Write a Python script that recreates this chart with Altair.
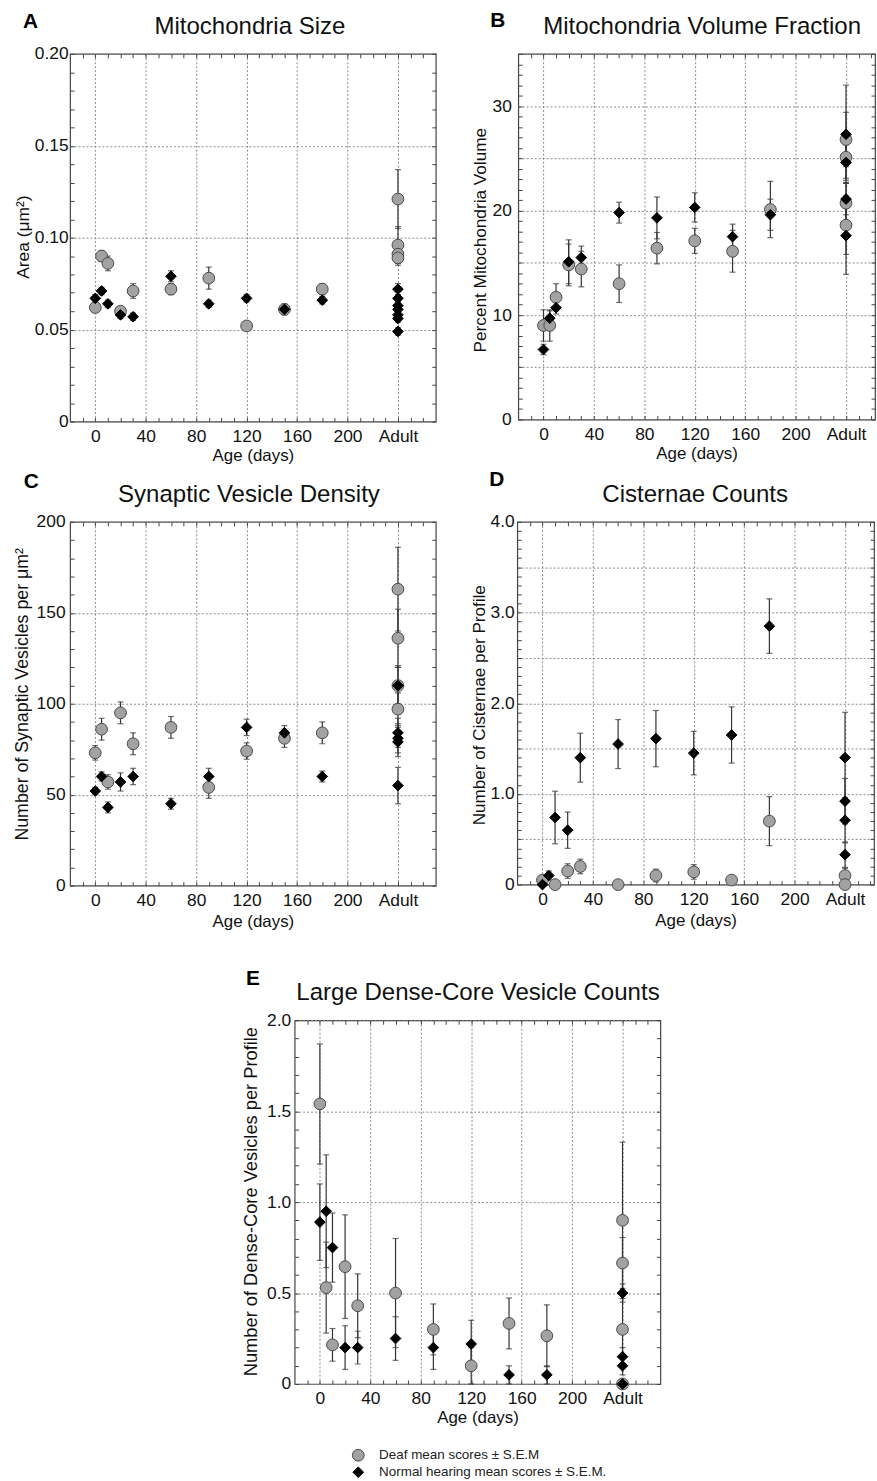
import altair as alt
import pandas as pd

FONT = "Liberation Sans"

# ---------------- data ----------------
AGES = [0, 5, 10, 20, 30, 60, 90, 120, 150, 180]
ADULT = 240
X_TICKS = [0, 40, 80, 120, 160, 200, 240]
X_MINOR = list(range(-10, 270, 10))
GROUPS = ["Deaf", "Normal"]

# A: Mitochondria Size
A_DEAF = [0.062, 0.090, 0.086, 0.060, 0.071, 0.072, 0.078, 0.052, 0.061, 0.072]
A_DEAF_SEM = [0.002, 0.003, 0.004, 0.002, 0.004, 0.003, 0.006, 0.002, 0.002, 0.003]
A_NORM = [0.067, 0.071, 0.064, 0.058, 0.057, 0.079, 0.064, 0.067, 0.061, 0.066]
A_NORM_SEM = [0.002, 0.002, 0.002, 0.002, 0.002, 0.003, 0.002, 0.002, 0.003, 0.002]
A_DEAF_AD = [0.121, 0.096, 0.091, 0.089]
A_DEAF_AD_SEM = [0.016, 0.010, 0.003, 0.004]
A_NORM_AD = [0.072, 0.067, 0.063, 0.061, 0.058, 0.056, 0.049]
A_NORM_AD_SEM = [0.003, 0.002, 0.002, 0.002, 0.002, 0.002, 0.002]

# B: Mitochondria Volume Fraction
B_DEAF = [9.0, 9.0, 11.7, 14.8, 14.4, 13.0, 16.4, 17.1, 16.1, 20.1]
B_DEAF_SEM = [1.5, 1.5, 1.3, 2.0, 1.7, 1.8, 1.5, 1.2, 2.0, 2.7]
B_NORM = [6.7, 9.7, 10.7, 15.1, 15.5, 19.8, 19.3, 20.3, 17.5, 19.6]
B_NORM_SEM = [0.5, 0.7, 0.6, 2.1, 1.1, 1.0, 2.0, 1.4, 1.2, 1.5]
B_DEAF_AD = [26.8, 25.1, 20.7, 18.6]
B_DEAF_AD_SEM = [2.6, 2.0, 2.0, 2.8]
B_NORM_AD = [27.3, 24.6, 21.1, 17.6]
B_NORM_AD_SEM = [4.7, 1.7, 1.5, 3.7]

# C: Synaptic Vesicle Density
C_DEAF = [73, 86, 57, 95, 78, 87, 54, 74, 81, 84]
C_DEAF_SEM = [4, 6, 4, 6, 6, 6, 6, 4.5, 5, 6]
C_NORM = [52, 60, 43, 57, 60, 45, 60, 87, 84, 60]
C_NORM_SEM = [2, 2.5, 3, 5, 4.5, 3, 4.5, 4.5, 4, 3]
C_DEAF_AD = [163, 136, 110, 97]
C_DEAF_AD_SEM = [23, 16, 11, 9]
C_NORM_AD = [110, 84, 81, 79, 55]
C_NORM_AD_SEM = [10, 8, 8, 8, 10]

# D: Cisternae Counts
D_DEAF = [0.05, None, 0.0, 0.15, 0.20, 0.0, 0.10, 0.14, 0.05, 0.70]
D_DEAF_SEM = [0.03, None, 0.02, 0.08, 0.08, 0.0, 0.07, 0.08, 0.02, 0.27]
D_NORM = [0.0, 0.10, 0.74, 0.60, 1.40, 1.55, 1.61, 1.45, 1.65, 2.85]
D_NORM_SEM = [0.0, 0.05, 0.29, 0.20, 0.27, 0.27, 0.31, 0.24, 0.31, 0.30]
D_DEAF_AD = [0.10, 0.0]
D_DEAF_AD_SEM = [0.08, 0.0]
D_NORM_AD = [1.40, 0.92, 0.71, 0.33]
D_NORM_AD_SEM = [0.50, 0.25, 0.25, 0.14]

# E: Large Dense-Core Vesicle Counts
E_DEAF = [1.54, 0.53, 0.215, 0.645, 0.43, 0.50, 0.30, 0.10, 0.333, 0.265]
E_DEAF_SEM = [0.33, 0.25, 0.09, 0.285, 0.175, 0.30, 0.14, 0.10, 0.14, 0.17]
E_NORM = [0.89, 0.95, 0.75, 0.20, 0.20, 0.25, 0.20, 0.22, 0.05, 0.05]
E_NORM_SEM = [0.21, 0.31, 0.19, 0.12, 0.09, 0.12, 0.12, 0.13, 0.05, 0.05]
E_DEAF_AD = [0.90, 0.665, 0.30, 0.0]
E_DEAF_AD_SEM = [0.43, 0.14, 0.20, 0.0]
E_NORM_AD = [0.50, 0.15, 0.10, 0.0]
E_NORM_AD_SEM = [0.05, 0.05, 0.05, 0.0]

PANEL_LETTERS = ["A", "B", "C", "D", "E"]
PANEL_TITLES = ["Mitochondria Size", "Mitochondria Volume Fraction",
                "Synaptic Vesicle Density", "Cisternae Counts",
                "Large Dense-Core Vesicle Counts"]
Y_TITLES = ["Area (μm²)", "Percent Mitochondria Volume",
            "Number of Synaptic Vesicles per μm²",
            "Number of Cisternae per Profile",
            "Number of Dense-Core Vesicles per Profile"]
X_TITLE = "Age (days)"
LEGEND_LABELS = ["Deaf mean scores ± S.E.M", "Normal hearing mean scores ± S.E.M."]

A_YVALS = [0, 0.05, 0.10, 0.15, 0.20]
B_YVALS = [0, 5, 10, 15, 20, 25, 30, 35]
C_YVALS = [0, 50, 100, 150, 200]
D_YVALS = [0, 0.5, 1.0, 1.5, 2.0, 2.5, 3.0, 3.5, 4.0]
E_YVALS = [0, 0.5, 1.0, 1.5, 2.0]

A_YMINOR = [round(0.01 * i, 2) for i in range(21)]
B_YMINOR = list(range(36))
C_YMINOR = list(range(0, 201, 10))
D_YMINOR = [round(0.1 * i, 1) for i in range(41)]
E_YMINOR = [round(0.1 * i, 1) for i in range(21)]


def make_df(deaf, deaf_sem, norm, norm_sem, deaf_ad, deaf_ad_sem, norm_ad, norm_ad_sem, ymin):
    rows = []
    for grp, vals, sems, avals, asems in [("Deaf", deaf, deaf_sem, deaf_ad, deaf_ad_sem),
                                          ("Normal", norm, norm_sem, norm_ad, norm_ad_sem)]:
        for age, v, s in zip(AGES, vals, sems):
            if v is None:
                continue
            rows.append({"group": grp, "age": age, "mean": v, "lo": max(v - s, ymin), "hi": v + s})
        for v, s in zip(avals, asems):
            rows.append({"group": grp, "age": ADULT, "mean": v, "lo": max(v - s, ymin), "hi": v + s})
    return pd.DataFrame(rows)


SHAPE = alt.Shape("group:N", scale=alt.Scale(domain=GROUPS, range=["circle", "diamond"]), legend=None)
FILL = alt.Fill("group:N", scale=alt.Scale(domain=GROUPS, range=["#a2a2a2", "#000000"]), legend=None)
STROKE = alt.Stroke("group:N", scale=alt.Scale(domain=GROUPS, range=["#4a4a4a", "#000000"]), legend=None)
SIZE = alt.Size("group:N", scale=alt.Scale(domain=GROUPS, range=[140, 115]), legend=None)

EB = "#333333"
GRID = "#8a8a8a"
TXT = "#111111"
LFS = 17.5   # tick label size
XFS = 17     # x title size


def panel(df, idx, w, h, xmax, ydom, yvals, yminor, lexpr, lpad, tx, ty, tfs, xty, ldx, ldy, tcx):
    xs = alt.Scale(domain=[-20, xmax], nice=False, zero=False)
    ys = alt.Scale(domain=ydom, nice=False, zero=False)
    tick_common = dict(labels=False, domain=False, grid=False, ticks=True, tickSize=4,
                       tickColor="#444444", tickWidth=1, title=None)
    x_main = alt.Axis(orient="bottom", values=X_TICKS,
                      labelExpr="datum.value == 240 ? 'Adult' : datum.label",
                      grid=True, gridColor=GRID, gridDash=[2, 2], gridWidth=1,
                      ticks=False, domain=False, labelPadding=6, labelFontSize=LFS,
                      labelColor=TXT, labelFlush=False, labelFont=FONT,
                      title=X_TITLE, titleFontSize=XFS, titleFontWeight="normal", titleFont=FONT,
                      titleColor=TXT, titleX=w / 2, titleY=xty, titleBaseline="middle",
                      titleAlign="center")
    y_main = alt.Axis(orient="left", values=yvals, labelExpr=lexpr,
                      grid=True, gridColor=GRID, gridDash=[2, 2], gridWidth=1,
                      ticks=False, domain=False, labelPadding=lpad, labelFontSize=LFS,
                      labelColor=TXT, labelFlush=False, labelFont=FONT, labelBaseline="middle",
                      title=Y_TITLES[idx], titleFontSize=tfs, titleFontWeight="normal", titleFont=FONT,
                      titleColor=TXT, titleX=tx, titleY=ty, titleAngle=270,
                      titleBaseline="middle", titleAlign="center")
    base = alt.Chart(df)
    rules = base.mark_rule(color=EB, strokeWidth=1.2).encode(
        x=alt.X("age:Q", scale=xs, axis=x_main),
        y=alt.Y("lo:Q", scale=ys, axis=y_main),
        y2="hi:Q")
    caps_lo = base.mark_tick(orient="horizontal", size=6, thickness=1.2, color=EB).encode(
        x=alt.X("age:Q", scale=xs, axis=alt.Axis(orient="top", offset=-h, values=X_MINOR, **tick_common)),
        y=alt.Y("lo:Q", scale=ys, axis=alt.Axis(orient="right", offset=-w, values=yminor, **tick_common)))
    caps_hi = base.mark_tick(orient="horizontal", size=6, thickness=1.2, color=EB).encode(
        x=alt.X("age:Q", scale=xs, axis=alt.Axis(orient="bottom", offset=-h, values=X_MINOR, **tick_common)),
        y=alt.Y("hi:Q", scale=ys, axis=alt.Axis(orient="left", offset=-w, values=yminor, **tick_common)))
    points = base.mark_point(filled=True, opacity=1, strokeWidth=1).encode(
        x=alt.X("age:Q", scale=xs, axis=None),
        y=alt.Y("mean:Q", scale=ys, axis=None),
        shape=SHAPE, fill=FILL, stroke=STROKE, size=SIZE)
    letter = alt.Chart(pd.DataFrame({"t": [PANEL_LETTERS[idx]]})).mark_text(
        align="left", baseline="alphabetic", fontSize=21, fontWeight="bold", font=FONT, color="#000000"
    ).encode(text="t:N", x=alt.value(ldx), y=alt.value(ldy))
    title = alt.Chart(pd.DataFrame({"t": [PANEL_TITLES[idx]]})).mark_text(
        align="center", baseline="alphabetic", fontSize=24.2, font=FONT, color=TXT
    ).encode(text="t:N", x=alt.value(tcx), y=alt.value(-20))
    return alt.layer(rules, caps_lo, caps_hi, points, letter, title).resolve_axis(
        x="independent", y="independent").properties(
        width=w, height=h, view=alt.ViewBackground(stroke="#444444", strokeWidth=1.2))


dfA = make_df(A_DEAF, A_DEAF_SEM, A_NORM, A_NORM_SEM, A_DEAF_AD, A_DEAF_AD_SEM, A_NORM_AD, A_NORM_AD_SEM, 0)
dfB = make_df(B_DEAF, B_DEAF_SEM, B_NORM, B_NORM_SEM, B_DEAF_AD, B_DEAF_AD_SEM, B_NORM_AD, B_NORM_AD_SEM, 0)
dfC = make_df(C_DEAF, C_DEAF_SEM, C_NORM, C_NORM_SEM, C_DEAF_AD, C_DEAF_AD_SEM, C_NORM_AD, C_NORM_AD_SEM, 0)
dfD = make_df(D_DEAF, D_DEAF_SEM, D_NORM, D_NORM_SEM, D_DEAF_AD, D_DEAF_AD_SEM, D_NORM_AD, D_NORM_AD_SEM, 0)
dfE = make_df(E_DEAF, E_DEAF_SEM, E_NORM, E_NORM_SEM, E_DEAF_AD, E_DEAF_AD_SEM, E_NORM_AD, E_NORM_AD_SEM, 0)

LA = "datum.value == 0 ? '0' : format(datum.value, '.2f')"
LB = "datum.value % 10 == 0 ? datum.label : ''"
LC = "datum.label"
LD = "datum.value == 0 ? '0' : (datum.value % 1 == 0 ? format(datum.value, '.1f') : '')"
LE = "datum.value == 0 ? '0' : format(datum.value, '.1f')"

pA = panel(dfA, 0, 368, 370, 270, [0, 0.2], A_YVALS, A_YMINOR, LA, 2, -47, 184, 17.5, 34, -47.3, -26.3, 181)
pB = panel(dfB, 1, 359, 368, 263, [0, 35], B_YVALS, B_YMINOR, LB, 7, -38, 187, 17.3, 34, -28.3, -27.3, 185)
pC = panel(dfC, 2, 368, 366, 270, [0, 200], C_YVALS, C_YMINOR, LC, 5, -48, 173, 17.9, 36, -46.7, -33.7, 180)
pD = panel(dfD, 3, 359, 365, 263, [0, 4], D_YVALS, D_YMINOR, LD, 3, -38, 184, 17.2, 36, -28.3, -35.7, 179)
pE = panel(dfE, 4, 368, 366, 270, [0, 2], E_YVALS, E_YMINOR, LE, 4, -44, 182, 18.4, 34, -49, -35, 184.5)


def spacer(wd):
    return alt.Chart(pd.DataFrame({"v": [0]})).mark_point(size=0, opacity=0).encode(
        x=alt.value(0), y=alt.value(0)).properties(width=wd, height=1)


leg_df = pd.DataFrame({"group": GROUPS, "label": LEGEND_LABELS})
ly = alt.Y("group:N", axis=None, scale=alt.Scale(type="point", domain=GROUPS, padding=0.35))
leg_sym = alt.Chart(leg_df).mark_point(filled=True, opacity=1, strokeWidth=1).encode(
    x=alt.value(8), y=ly, shape=SHAPE, fill=FILL, stroke=STROKE, size=SIZE)
leg_txt = alt.Chart(leg_df).mark_text(align="left", baseline="middle", fontSize=13.5, font=FONT,
                                      color="#222222").encode(x=alt.value(29), y=ly, text="label:N")
legend = alt.layer(leg_sym, leg_txt).properties(width=280, height=29)

top = alt.vconcat(alt.hconcat(pA, pB, spacing=33), alt.hconcat(pC, pD, spacing=32), spacing=4)
bottom = alt.vconcat(alt.hconcat(spacer(171.35), pE, spacing=0),
                     alt.hconcat(spacer(279.55), legend, spacing=0), spacing=19.75)

chart = alt.vconcat(top, bottom, spacing=37.5).properties(
    padding={"left": 12.5, "top": 4.5, "right": 0, "bottom": 0}
).configure(font=FONT).configure_view(stroke="transparent")

chart.save("out.html", embed_options={"renderer": "svg", "actions": False})
